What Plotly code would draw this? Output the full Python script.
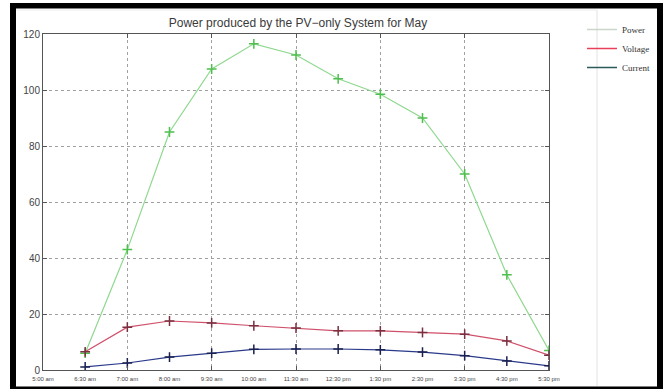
import plotly.graph_objects as go

time_labels = ["5:00 am", "6:30 am", "7:00 am", "8:00 am", "9:30 am", "10:00 am",
               "11:30 am", "12:30 pm", "1:30 pm", "2:30 pm", "3:30 pm", "4:30 pm", "5:30 pm"]
x_index = list(range(1, 13))
power = [6, 43, 85, 107.5, 116.5, 112.5, 104, 98.5, 90, 70, 34, 7]
voltage = [6.5, 15.3, 17.5, 16.8, 15.8, 15, 14, 14, 13.4, 12.8, 10.4, 5.3]
current = [1.1, 2.5, 4.6, 6, 7.4, 7.5, 7.5, 7.2, 6.4, 5.1, 3.2, 1.5]
y_ticks = [0, 20, 40, 60, 80, 100, 120]

W, H = 663, 389
L, R, T, B = 43, 549, 34, 370

fig = go.Figure()

series = [
    ("Power", power, "#8fd88f", "#4fbf4f", "#c9d6c9"),
    ("Voltage", voltage, "#d0506a", "#7a3040", "#e8405a"),
    ("Current", current, "#2a3a8a", "#1a2050", "#2a5a5a"),
]
for name, vals, lc, mc, legc in series:
    fig.add_trace(go.Scatter(
        x=x_index, y=vals, mode="lines+markers", name=name, showlegend=False,
        line=dict(color=lc, width=1.2),
        marker=dict(symbol="cross-thin", size=7, line=dict(color=mc, width=1.5)),
    ))
for name, vals, lc, mc, legc in series:
    fig.add_trace(go.Scatter(
        x=[None], y=[None], mode="lines", name=name,
        line=dict(color=legc, width=1.5),
    ))

def px_x(p):
    return (p - L) / (R - L)

def px_y(p):
    return (B - p) / (B - T)

shapes = []
# black frame
for x0, x1, y0, y1 in [(10, 663, 3, 8.5), (10, 16, 3, 389), (657, 663, 3, 389), (10, 663, 386.5, 389)]:
    shapes.append(dict(type="rect", xref="paper", yref="paper",
                       x0=px_x(x0), x1=px_x(x1), y0=px_y(y1), y1=px_y(y0),
                       fillcolor="black", line=dict(width=0), layer="above"))
# faint outer figure edge
shapes.append(dict(type="line", xref="paper", yref="paper",
                   x0=px_x(597), x1=px_x(597), y0=px_y(386), y1=px_y(10),
                   line=dict(color="#e2e2e2", width=1)))
shapes.append(dict(type="line", xref="paper", yref="paper",
                   x0=px_x(16), x1=px_x(597), y0=px_y(10), y1=px_y(10),
                   line=dict(color="#ececec", width=1)))

fig.update_layout(
    width=W, height=H,
    margin=dict(l=L, r=W - R, t=T, b=H - B, pad=0, autoexpand=False),
    paper_bgcolor="white", plot_bgcolor="white",
    font=dict(family="Liberation Sans, Arial, sans-serif", color="#333333"),
    title=dict(text="Power produced by the PV\u2212only System for May",
               x=(298) / W, xanchor="center", y=1 - 23 / H, yanchor="middle",
               font=dict(size=12, color="#3a3a3a")),
    xaxis=dict(range=[0, 12], tickvals=list(range(13)), ticktext=time_labels,
               ticks="outside", ticklen=3, tickcolor="rgba(0,0,0,0)",
               showgrid=False, zeroline=False,
               showline=True, linecolor="#555555", linewidth=1, mirror=True,
               tickfont=dict(size=6, color="#444444")),
    xaxis2=dict(range=[0, 12], overlaying="x", matches="x",
                tickvals=[2, 4, 6, 8, 10, 12], showticklabels=False,
                ticks="inside", ticklen=4, tickcolor="#555555",
                showgrid=True, gridcolor="#a0a0a0", griddash="dot", gridwidth=1,
                zeroline=False, showline=False, mirror="ticks"),
    yaxis=dict(range=[0, 120], tickvals=y_ticks, ticks="inside", ticklen=4,
               tickcolor="#555555", mirror="ticks",
               showgrid=True, gridcolor="#a0a0a0", griddash="dot", gridwidth=1,
               zeroline=False, showline=True, linecolor="#555555", linewidth=1,
               tickfont=dict(size=10, color="#444444")),
    legend=dict(x=px_x(582), y=px_y(15), xanchor="left", yanchor="top",
                font=dict(family="Liberation Serif, Times New Roman, serif", size=9, color="#333333"),
                bgcolor="rgba(0,0,0,0)", itemwidth=30, tracegroupgap=0),
    shapes=shapes,
)
# dummy trace to activate xaxis2
fig.add_trace(go.Scatter(x=[None], y=[None], xaxis="x2", showlegend=False, hoverinfo="skip"))

fig.write_html("out.html")
